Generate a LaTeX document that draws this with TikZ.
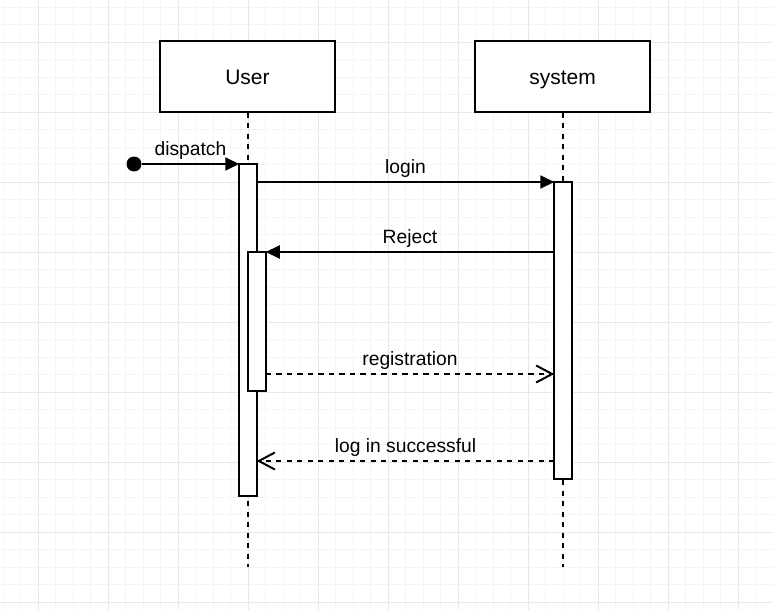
\documentclass[tikz,border=0pt]{standalone}
\usepackage{fontspec}
\setmainfont{Liberation Sans}
\usetikzlibrary{arrows.meta,calc,positioning}

\begin{document}
\begin{tikzpicture}[x=1pt, y=-1pt,
    every node/.style={font=\fontsize{19.25}{23}\selectfont},
    gridminor/.style={draw=black!4, line width=0.8pt},
    gridmajor/.style={draw=black!9, line width=0.8pt},
    actor/.style={draw, fill=white, line width=2pt, minimum width=175pt, minimum height=70pt, text height=15pt, text depth=0pt, font=\fontsize{21}{25}\selectfont},
    actbar/.style={draw, fill=white, line width=2pt, minimum width=17.5pt, inner sep=0pt, outer sep=0pt},
    lifeline/.style={line width=2pt, dash pattern=on 5.25pt off 5.25pt},
    msg/.style={line width=2pt, -{Triangle[length=14pt,width=13pt]}},
    reply/.style={line width=2pt, dash pattern=on 5.25pt off 5.25pt, -{Straight Barb[length=16pt,width=17pt]}},
    msglabel/.style={midway, anchor=base, yshift=9pt, inner sep=0pt}
]
    \useasboundingbox (0,0) rectangle (773,610);
    % grid
    \fill[white] (0,0) rectangle (773,610);
    \foreach \i in {0,...,44} \draw[gridminor] (3+17.5*\i,0) -- (3+17.5*\i,610);
    \foreach \i in {0,...,34} \draw[gridminor] (0,7+17.5*\i) -- (773,7+17.5*\i);
    \foreach \i in {0,...,10} \draw[gridmajor] (38+70*\i,0) -- (38+70*\i,610);
    \foreach \i in {0,...,8} \draw[gridmajor] (0,42+70*\i) -- (773,42+70*\i);

    % lifelines
    \node[actor] (user) at (247.5,76.5) {User};
    \node[actor] (sys) at (562.5,76.5) {system};
    \draw[lifeline] (user.south) -- (user.south |- 0,567);
    \draw[lifeline] (sys.south) -- (sys.south |- 0,567);

    % activations
    \node[actbar, minimum height=332pt] (userAct) at (248,330) {};
    \node[actbar, minimum height=139pt] (nestAct) at (257,321.5) {};
    \node[actbar, minimum height=297pt] (sysAct) at (563,330.5) {};

    % messages
    \node[circle, fill=black, minimum size=15pt, inner sep=0pt] (start) at (134,164) {};
    \draw[msg] (start) -- (userAct.north west) node[msglabel] {dispatch};
    \draw[msg] (userAct.east |- sysAct.north) -- (sysAct.north west) node[msglabel] {login};
    \draw[msg] (sysAct.west |- nestAct.north) -- (nestAct.north east) node[msglabel] {Reject};
    \draw[reply] (nestAct.east |- 0,374) -- (sysAct.west |- 0,374) node[msglabel] {registration};
    \draw[reply] (sysAct.west |- 0,461) -- (userAct.east |- 0,461) node[msglabel] {log in successful};
\end{tikzpicture}
\end{document}
